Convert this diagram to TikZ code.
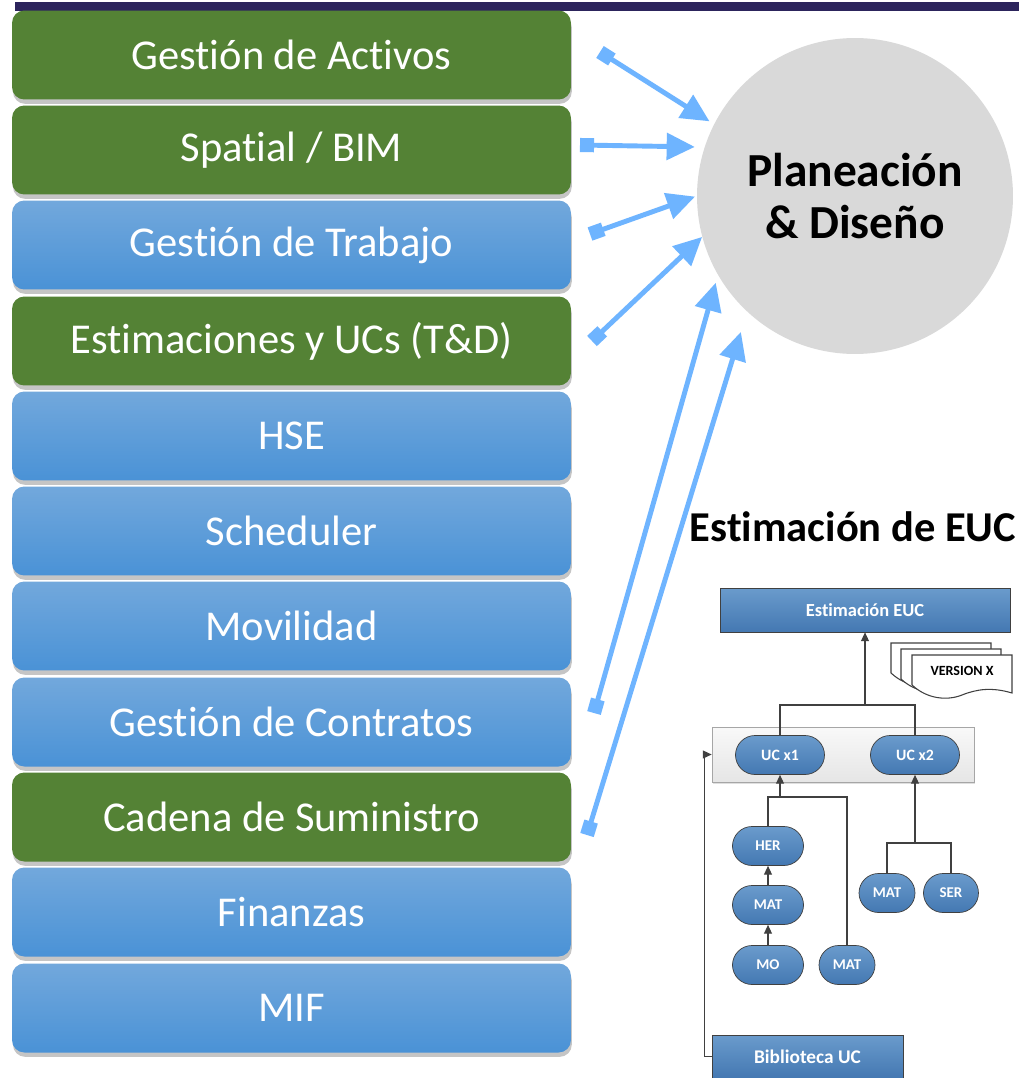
\documentclass[tikz,border=0pt]{standalone}
\usepackage{fontspec}
\setmainfont{Carlito}[Ligatures=NoCommon]
\usetikzlibrary{arrows.meta,shadows,shapes.misc}

\definecolor{barnavy}{RGB}{44,36,92}
\definecolor{modgreen}{RGB}{84,130,53}
\definecolor{modbluetop}{RGB}{114,168,220}
\definecolor{modbluebot}{RGB}{74,146,214}
\definecolor{linkblue}{RGB}{110,180,255}
\definecolor{circgray}{RGB}{217,217,217}
\definecolor{eucbluetop}{RGB}{106,155,204}
\definecolor{eucbluebot}{RGB}{68,120,178}
\definecolor{edgegray}{RGB}{64,64,64}

\tikzset{
  module/.style={rounded corners=7pt, minimum width=11.18cm, minimum height=1.78cm,
    inner sep=0pt, text=white, font=\fontsize{24.2}{28}\selectfont,
    drop shadow={shadow xshift=0.5pt, shadow yshift=-2.5pt, opacity=.45}},
  greenmod/.style={module, fill=modgreen},
  bluemod/.style={module, top color=modbluetop, bottom color=modbluebot},
  link/.style={linkblue, line width=2.8pt,
    {Square[length=8pt,width=8pt]}-{Triangle[length=16pt,width=15pt]}},
  eucbox/.style={rectangle, draw=edgegray, top color=eucbluetop, bottom color=eucbluebot,
    text=white, inner sep=0pt, font=\bfseries\fontsize{10.5}{12}\selectfont},
  ucpill/.style={rounded rectangle, draw=edgegray, top color=eucbluetop, bottom color=eucbluebot,
    text=white, inner sep=0pt, minimum height=0.78cm, font=\bfseries\fontsize{9}{10}\selectfont},
  treeline/.style={edgegray, line width=0.6pt},
  treearrow/.style={treeline, -{Triangle[length=5pt,width=4.5pt]}}
}

\begin{document}
\begin{tikzpicture}[x=0.02cm, y=-0.02cm]
    \useasboundingbox (0,0) rectangle (1019,1078);
    \fill[white] (0,0) rectangle (1019,1078);

    % Top bar
    \fill[barnavy] (15,2) rectangle (1019,11);

    % Module column
    \node[greenmod] (act) at (291.5,55) {Gestión de Activos};
    \node[greenmod] (spatial) at (291.5,150) {Spatial / BIM};
    \node[bluemod] (trabajo) at (291.5,245) {Gestión de Trabajo};
    \node[greenmod] (estim) at (291.5,341) {Estimaciones y UCs (T\&D)};
    \node[bluemod] (hse) at (291.5,436) {HSE};
    \node[bluemod] (sched) at (291.5,531) {Scheduler};
    \node[bluemod] (movil) at (291.5,626) {Movilidad};
    \node[bluemod] (contratos) at (291.5,722) {Gestión de Contratos};
    \node[greenmod] (cadena) at (291.5,817) {Cadena de Suministro};
    \node[bluemod] (finanzas) at (291.5,912) {Finanzas};
    \node[bluemod] (mif) at (291.5,1008) {MIF};

    % Planning circle
    \node[circle, fill=circgray, minimum size=6.32cm, align=center,
          font=\bfseries\fontsize{27}{30}\selectfont] (plan) at (855,196)
          {Planeación\\\& Diseño};

    % Links into the circle
    \coordinate (t1) at (600,52);
    \coordinate (t2) at (580,145);
    \coordinate (t3) at (590,234);
    \coordinate (t4) at (592,341);
    \coordinate (t5) at (594,713);
    \coordinate (t6) at (587,835);
    \draw[link, shorten >=3pt] (t1) -- (plan.153);
    \draw[link, shorten >=5.5pt] (t2) -- (plan.162);
    \draw[link, shorten >=1pt] (t3) -- (plan.180);
    \draw[link] (t4) -- (plan.195);
    \draw[link, shorten >=4.5pt] (t5) -- (plan.210);
    \draw[link, shorten >=12pt] (t6) -- (plan.227);

    % EUC estimation
    \node[font=\bfseries\fontsize{24.2}{28}\selectfont] (euctitle) at (853,527) {Estimación de EUC};
    \node[eucbox, minimum width=5.8cm, minimum height=0.88cm] (euc) at (865,610) {Estimación EUC};

    % Version stack
    \newcommand{\versionsheet}[2]{
      \draw[edgegray, line width=0.6pt, fill=white, shift={(#1,#2)}]
        (0,0) -- (100,0) -- (100,38) .. controls (80,32) and (65,34) .. (50,40)
        .. controls (35,46) and (15,44) .. (0,30) -- cycle;}
    \versionsheet{891}{643}
    \versionsheet{901}{649}
    \versionsheet{912}{655}
    \node[font=\bfseries\fontsize{8}{9}\selectfont] (version) at (962,671) {VERSION X};

    % UC group
    \node[rectangle, draw=gray!70, top color=gray!5, bottom color=gray!20,
          minimum width=5.24cm, minimum height=1.1cm,
          drop shadow={shadow xshift=0.5pt, shadow yshift=-1pt, opacity=.25}] (ucbox) at (843,754.5) {};
    \node[ucpill, minimum width=1.78cm] (uc1) at (780,755) {UC x1};
    \node[ucpill, minimum width=1.78cm] (uc2) at (915,755) {UC x2};

    % Components
    \node[ucpill, minimum width=1.42cm, font=\bfseries\fontsize{8.5}{10}\selectfont] (her) at (768,846) {HER};
    \node[ucpill, minimum width=1.42cm, font=\bfseries\fontsize{8.5}{10}\selectfont] (mata) at (768,905) {MAT};
    \node[ucpill, minimum width=1.42cm, font=\bfseries\fontsize{8.5}{10}\selectfont] (mo) at (768,965) {MO};
    \node[ucpill, minimum width=1.12cm, font=\bfseries\fontsize{8.5}{10}\selectfont] (matb) at (847,965) {MAT};
    \node[ucpill, minimum width=1.12cm, font=\bfseries\fontsize{8.5}{10}\selectfont] (matc) at (887,893) {MAT};
    \node[ucpill, minimum width=1.1cm, font=\bfseries\fontsize{8.5}{10}\selectfont] (ser) at (951,893) {SER};

    \node[eucbox, minimum width=3.82cm, minimum height=0.86cm,
          font=\bfseries\fontsize{11}{12}\selectfont] (bib) at (807.5,1056.5) {Biblioteca UC};

    % Tree connectors
    \coordinate (eucjoin) at (865,705);
    \draw[treeline] (uc1.north) |- (eucjoin) -| (uc2.north);
    \draw[treearrow] (eucjoin) -- (euc.south);

    \coordinate (lbranch) at (780,797);
    \draw[treeline] (her.north) |- (lbranch) -| (matb.north);
    \draw[treearrow] (lbranch) -- (uc1.south);
    \draw[treearrow] (mo.north) -- (mata.south);
    \draw[treearrow] (mata.north) -- (her.south);

    \coordinate (rbranch) at (915,843);
    \draw[treeline] (matc.north) |- (rbranch) -| (ser.north);
    \draw[treearrow] (rbranch) -- (uc2.south);

    \draw[treearrow] (bib.west) -- ++(-7,0) |- (ucbox.west);
\end{tikzpicture}
\end{document}
